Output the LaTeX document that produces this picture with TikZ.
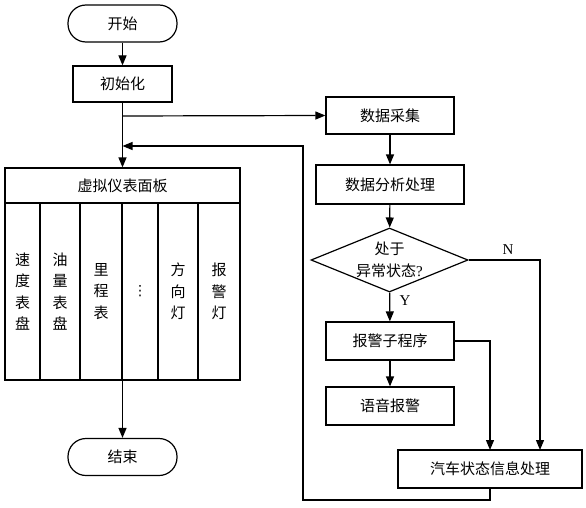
\documentclass[tikz,border=0pt]{standalone}
\usepackage{fontspec}
\setmainfont{Liberation Serif}
\newfontfamily\cjk{Noto Sans CJK SC}
\newfontfamily\djv{DejaVu Sans}
\usetikzlibrary{shapes.geometric,arrows.meta}
\begin{document}
\begin{tikzpicture}[x=1pt,y=-1pt,
  every node/.style={font=\cjk\fontsize{15}{21.5}\selectfont, inner sep=0pt},
  box/.style={draw, line width=1.2pt, rectangle, align=center},
  term/.style={draw, line width=1.2pt, rectangle, rounded corners=18pt, minimum width=109pt, minimum height=37pt},
  col/.style={draw, line width=1.2pt, rectangle, align=center, minimum height=177pt},
  dec/.style={draw, line width=1.2pt, diamond, aspect=2.45, minimum width=157pt, minimum height=64pt, align=center},
  flow/.style={line width=1.2pt, -{Triangle[length=10pt,width=8pt]}},
  lab/.style={font=\fontsize{15}{16}\selectfont}
]
\useasboundingbox (0,0) rectangle (586,508);
\node[term] (start) at (122.5,23.5) {开始};
\node[box, minimum width=99pt, minimum height=36pt] (init) at (122.5,84) {初始化};
\node[box, minimum width=235pt, minimum height=212pt] (panel) at (122.5,274) {};
\node[box, minimum width=235pt, minimum height=35pt] (head) at (122.5,185.5) {虚拟仪表面板};
\node[col, minimum width=35pt] (c1) at (22.5,291.5) {速\\度\\表\\盘};
\node[col, minimum width=40pt] (c2) at (60,291.5) {油\\量\\表\\盘};
\node[col, minimum width=42pt] (c3) at (101,291.5) {里\\程\\表};
\node[col, minimum width=36pt] (c4) at (140,291.5) {\djv\fontsize{14}{16}\selectfont ⋮};
\node[col, minimum width=40pt] (c5) at (178,291.5) {方\\向\\灯};
\node[col, minimum width=42pt] (c6) at (219,291.5) {报\\警\\灯};
\node[term] (end) at (122.5,457) {结束};

\node[box, minimum width=128pt, minimum height=37pt] (collect) at (390,115.5) {数据采集};
\node[box, minimum width=148pt, minimum height=39pt] (analyze) at (390,184.5) {数据分析处理};
\node[dec] (judge) at (389.5,260) {处于\\异常状态{\rmfamily ?}};
\node[box, minimum width=128pt, minimum height=38pt] (alarm) at (390,341) {报警子程序};
\node[box, minimum width=128pt, minimum height=38pt] (voice) at (390,406) {语音报警};
\node[box, minimum width=184pt, minimum height=38pt] (info) at (490,469) {汽车状态信息处理};

\node[lab] (nl) at (508,250) {N};
\node[lab] (yl) at (405,301) {Y};

\coordinate (b1) at (122.5,116);
\coordinate (b2) at (122.5,146);
\coordinate (nIn) at (540,450);
\coordinate (yIn) at (490,450);
\coordinate (lp1) at (490,500);
\coordinate (lp2) at (303,500);
\coordinate (lp3) at (303,146);

\draw[flow] (start) -- (init);
\draw[flow] (init) -- (panel.north);
\draw[flow] (b1) -- (collect.west);
\draw[flow] (collect) -- (analyze);
\draw[flow] (analyze) -- (judge);
\draw[flow] (judge) -- (alarm);
\draw[flow] (alarm) -- (voice);
\draw[flow] (judge.east) -| (nIn);
\draw[flow] (alarm.east) -| (yIn);
\draw[flow] (panel.south) -- (end);
\draw[flow] (info.south) -- (lp1) -- (lp2) -- (lp3) -- (b2);
\end{tikzpicture}
\end{document}
